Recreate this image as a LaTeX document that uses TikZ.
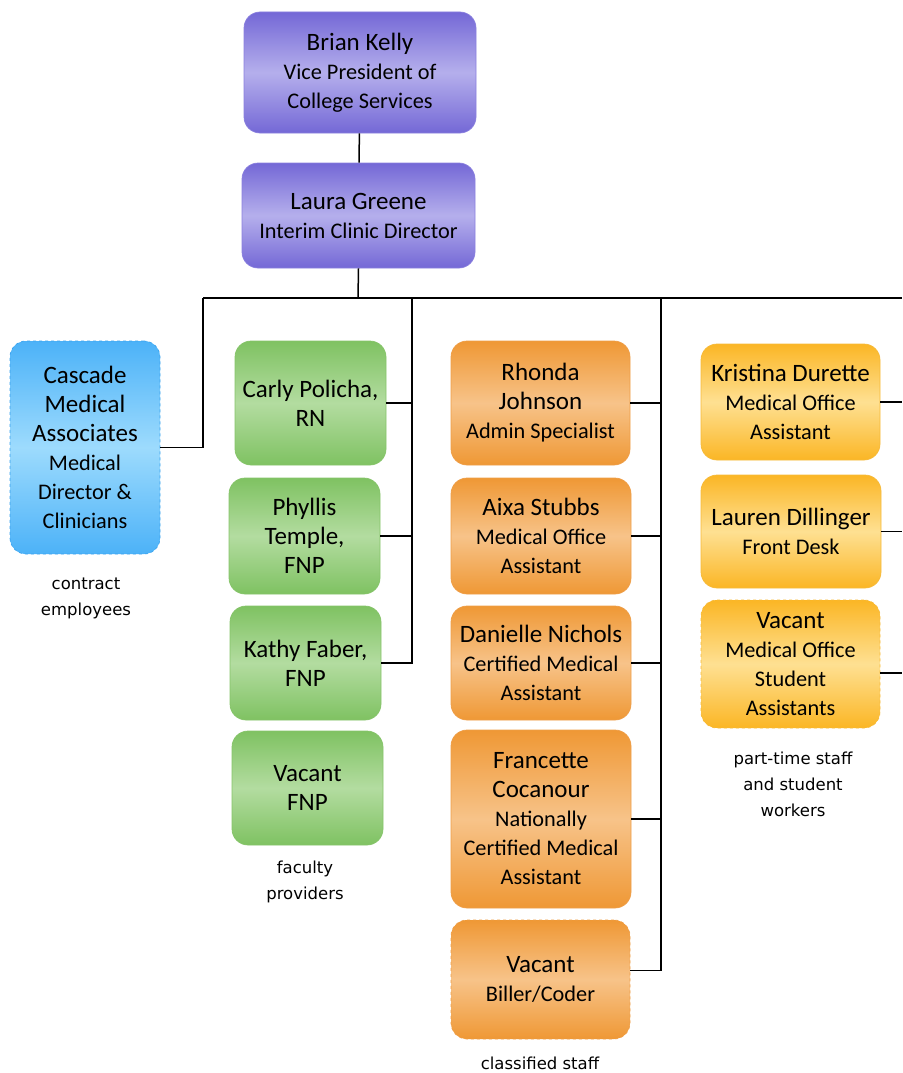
\documentclass[tikz,border=0pt]{standalone}
\usepackage{fontspec}
\setmainfont{Carlito}
\newfontfamily\captionfont{DejaVu Sans}

\definecolor{purpleedge}{HTML}{7468D6}
\definecolor{purplemid}{HTML}{B5AFEC}
\definecolor{purpleline}{HTML}{8A80DE}
\definecolor{blueedge}{HTML}{4CB2F8}
\definecolor{bluemid}{HTML}{9DDBFD}
\definecolor{blueline}{HTML}{3AA2EE}
\definecolor{greenedge}{HTML}{7FC262}
\definecolor{greenmid}{HTML}{B3DCA0}
\definecolor{greenline}{HTML}{86C46A}
\definecolor{orangeedge}{HTML}{EF9835}
\definecolor{orangemid}{HTML}{F7C389}
\definecolor{orangeline}{HTML}{EE9E48}
\definecolor{yellowedge}{HTML}{FBB625}
\definecolor{yellowmid}{HTML}{FEE092}
\definecolor{yellowline}{HTML}{F6BA3A}

\newcommand\boxname[1]{{\fontsize{25}{29}\selectfont #1}}

\tikzset{
  card/.style={rounded corners=16pt, align=center, inner sep=0pt, line width=.7pt,
    font=\fontsize{22.3}{29}\selectfont},
  vpcard/.style={card, draw=purpleline, top color=purpleedge, bottom color=purpleedge, middle color=purplemid},
  contractcard/.style={card, draw=blueline, dashed, top color=blueedge, bottom color=blueedge, middle color=bluemid},
  facultycard/.style={card, draw=greenline, top color=greenedge, bottom color=greenedge, middle color=greenmid},
  staffcard/.style={card, draw=orangeline, top color=orangeedge, bottom color=orangeedge, middle color=orangemid},
  parttimecard/.style={card, draw=yellowline, top color=yellowedge, bottom color=yellowedge, middle color=yellowmid},
  link/.style={line width=1.5pt},
  groupnote/.style={align=center, font=\captionfont\fontsize{16.5}{26}\selectfont}
}

\begin{document}
\begin{tikzpicture}[x=1pt,y=-1pt]
\useasboundingbox (0,0) rectangle (902,1073);

% leadership
\node[vpcard, minimum width=232, minimum height=121] (brian) at (360,72.5)
  {\boxname{Brian Kelly}\\Vice President of\\College Services};
\node[vpcard, minimum width=233, minimum height=105] (laura) at (358.5,215.5)
  {\boxname{Laura Greene}\\Interim Clinic Director};

% contract
\node[contractcard, minimum width=150, minimum height=213] (cascade) at (85,447.5)
  {\boxname{Cascade}\\\boxname{Medical}\\\boxname{Associates}\\Medical\\Director \&\\Clinicians};
\node[groupnote] (contractnote) at (86,598) {contract\\employees};

% faculty
\node[facultycard, minimum width=151, minimum height=124] (carly) at (310.5,403)
  {\boxname{Carly Policha,}\\\boxname{RN}};
\node[facultycard, minimum width=151, minimum height=116] (phyllis) at (304.5,536)
  {\boxname{Phyllis}\\\boxname{Temple,}\\\boxname{FNP}};
\node[facultycard, minimum width=151, minimum height=114] (kathy) at (305.5,663)
  {\boxname{Kathy Faber,}\\\boxname{FNP}};
\node[facultycard, minimum width=151, minimum height=114] (vacantfnp) at (307.5,788)
  {\boxname{Vacant}\\\boxname{FNP}};
\node[groupnote] (facultynote) at (305,882) {faculty\\providers};

% classified
\node[staffcard, minimum width=179, minimum height=124] (rhonda) at (540.5,403)
  {\boxname{Rhonda}\\\boxname{Johnson}\\Admin Specialist};
\node[staffcard, minimum width=180, minimum height=116] (aixa) at (541,536)
  {\boxname{Aixa Stubbs}\\Medical Office\\Assistant};
\node[staffcard, minimum width=180, minimum height=114] (danielle) at (541,663)
  {\boxname{Danielle Nichols}\\Certified Medical\\Assistant};
\node[staffcard, minimum width=180, minimum height=178] (francette) at (541,819)
  {\boxname{Francette}\\\boxname{Cocanour}\\Nationally\\Certified Medical\\Assistant};
\node[staffcard, dashed, minimum width=179, minimum height=119] (vacantbiller) at (540.5,979.5)
  {\boxname{Vacant}\\Biller/Coder};
\node[groupnote] (classifiednote) at (540,1063) {classified staff};

% part-time
\node[parttimecard, minimum width=179, minimum height=116] (kristina) at (790.5,402)
  {\boxname{Kristina Durette}\\Medical Office\\Assistant};
\node[parttimecard, minimum width=180, minimum height=113] (lauren) at (791,531.5)
  {\boxname{Lauren Dillinger}\\Front Desk};
\node[parttimecard, dashed, minimum width=179, minimum height=128] (vacantmosa) at (790.5,664)
  {\boxname{Vacant}\\Medical Office\\Student\\Assistants};
\node[groupnote] (parttimenote) at (793,784) {part-time staff\\and student\\workers};

% connectors
\coordinate (hub) at (358,298);
\coordinate (busL) at (203,298);
\coordinate (busR) at (902,298);
\coordinate (facultytop) at (412,298);
\coordinate (stafftop) at (661,298);
\draw[link] (brian) -- (laura);
\draw[link] (laura.south) -- (hub);
\draw[link] (busL) -- (busR);
\draw[link] (cascade.east) -| (busL);
\draw[link] (kathy.east) -| (facultytop);
\draw[link] (carly.east) -- (carly.east -| facultytop);
\draw[link] (phyllis.east) -- (phyllis.east -| facultytop);
\draw[link] ([yshift=9pt]vacantbiller.east) -| (stafftop);
\draw[link] (rhonda.east) -- (rhonda.east -| stafftop);
\draw[link] (aixa.east) -- (aixa.east -| stafftop);
\draw[link] (danielle.east) -- (danielle.east -| stafftop);
\draw[link] (francette.east) -- (francette.east -| stafftop);
\draw[link] (kristina.east) -- (kristina.east -| busR);
\draw[link] (lauren.east) -- (lauren.east -| busR);
\draw[link] ([yshift=-9pt]vacantmosa.east) -- ([yshift=-9pt]vacantmosa.east -| busR);
\end{tikzpicture}
\end{document}
